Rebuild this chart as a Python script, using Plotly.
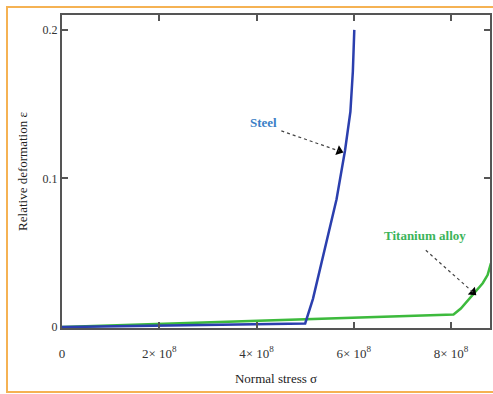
import plotly.graph_objects as go

# ---- data ----
steel_stress = [0, 5.0e8, 5.16e8, 5.40e8, 5.645e8, 5.82e8, 5.93e8, 5.98e8, 6.01e8]
steel_strain = [0, 0.0025, 0.019, 0.052, 0.086, 0.119, 0.145, 0.172, 0.2]

ti_stress = [0, 8.05e8, 8.2e8, 8.35e8, 8.5e8, 8.65e8, 8.75e8, 8.82e8]
ti_strain = [0, 0.0085, 0.0125, 0.018, 0.024, 0.0295, 0.035, 0.043]

x_tickvals = [0, 2e8, 4e8, 6e8, 8e8]
x_ticktext = ["0", "2× 10<sup>8</sup>", "4× 10<sup>8</sup>", "6× 10<sup>8</sup>", "8× 10<sup>8</sup>"]
y_tickvals = [0, 0.1, 0.2]
y_ticktext = ["0", "0.1", "0.2"]

# label positions and arrow (start -> tip), data coords
steel_label = (4.14e8, 0.1376)
steel_arrow = ((4.51e8, 0.132), (5.70e8, 0.1185))
ti_label = (7.46e8, 0.0617)
ti_arrow = ((7.48e8, 0.0517), (8.45e8, 0.0235))
arrow_angles = [110.4, 132.6]

FONT = "Liberation Serif, Times New Roman, serif"
BLUE = "#2b3fae"
GREEN = "#3dba3d"

fig = go.Figure()
fig.add_trace(go.Scatter(x=ti_stress, y=ti_strain, mode="lines",
                         line=dict(color=GREEN, width=2.5), showlegend=False))
fig.add_trace(go.Scatter(x=steel_stress, y=steel_strain, mode="lines",
                         line=dict(color=BLUE, width=2.5), showlegend=False))

axis_common = dict(showline=True, linecolor="#555555", linewidth=2, mirror="ticks",
                   ticks="inside", ticklen=6, tickwidth=1.5, tickcolor="#555555",
                   showgrid=False, zeroline=False, automargin=False)

fig.update_xaxes(range=[0, 8.8e8], tickvals=x_tickvals, ticktext=x_ticktext,
                 ticklabelstandoff=12,
                 tickfont=dict(family=FONT, size=13, color="#333333"),
                 title=dict(text="Normal stress σ", font=dict(family=FONT, size=13, color="#222222"),
                            standoff=14),
                 **axis_common)
fig.update_yaxes(range=[-0.0006, 0.21], tickvals=y_tickvals, ticktext=y_ticktext,
                 ticklabelstandoff=0,
                 tickfont=dict(family=FONT, size=12, color="#333333"),
                 title=dict(text="Relative deformation ε", font=dict(family=FONT, size=13, color="#222222"),
                            standoff=12),
                 **axis_common)

# labels
fig.add_annotation(x=steel_label[0], y=steel_label[1], text="<b>Steel</b>", showarrow=False,
                   font=dict(family=FONT, size=13, color="#3a80c6"))
fig.add_annotation(x=ti_label[0], y=ti_label[1], text="<b>Titanium alloy</b>", showarrow=False,
                   font=dict(family=FONT, size=13, color="#3cb45a"))

# dotted arrows
for (x0, y0), (x1, y1) in [steel_arrow, ti_arrow]:
    fig.add_shape(type="line", x0=x0, y0=y0, x1=x1, y1=y1, xref="x", yref="y",
                  line=dict(color="#444444", width=1.2, dash="dot"))
fig.add_trace(go.Scatter(x=[steel_arrow[1][0], ti_arrow[1][0]],
                         y=[steel_arrow[1][1], ti_arrow[1][1]],
                         mode="markers", showlegend=False, hoverinfo="skip",
                         marker=dict(symbol="triangle-up", size=9, color="#000000",
                                     angle=arrow_angles, line=dict(width=0))))

# orange frame around the figure
L, R, T, B = 62, 3, 15, 66
W, H = 493, 394
pw, ph = W - L - R, H - T - B
def px_x(p): return (p - L) / pw
def px_y(p): return (H - B - p) / ph
fig.add_shape(type="rect", xref="paper", yref="paper",
              x0=px_x(7), x1=px_x(496), y0=px_y(392), y1=px_y(7),
              line=dict(color="#f5b253", width=2), layer="below")

fig.update_layout(width=W, height=H, margin=dict(l=L, r=R, t=T, b=B),
                  plot_bgcolor="white", paper_bgcolor="white", showlegend=False)

fig.write_html("out.html", config={"displayModeBar": False},
               post_script="document.body.style.margin='0';document.body.style.overflow='hidden';")
